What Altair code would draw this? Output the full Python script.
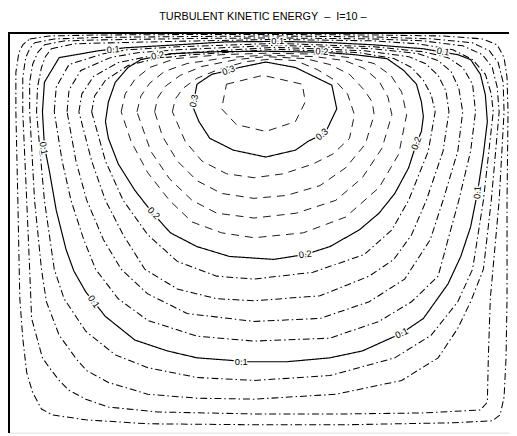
import altair as alt
import pandas as pd

# Contour lines of turbulent kinetic energy.
# x = distance from the left wall, d = depth below the lid (grid units).
levels = ["0.02", "0.04", "0.06", "0.08", "0.1", "0.12", "0.14", "0.16",
          "0.18", "0.2", "0.22", "0.24", "0.26", "0.28", "0.3", "0.32"]

cx = {}
cd = {}
cx["0.02"] = [21, 41, 91, 191, 271, 371, 441, 481, 496, 503, 506, 507, 506, 506, 505, 503, 499, 491, 451, 341, 249, 141, 78, 44, 33, 24, 18, 14, 11, 9, 7, 7, 10, 14]
cd["0.02"] = [6, 3, 2, 1.5, 1.5, 2, 3, 6, 12, 25, 45, 80, 170, 270, 330, 370, 388, 394, 396, 398, 398, 397, 393, 388, 382, 365, 345, 310, 270, 170, 80, 40, 20, 12]
cx["0.04"] = [26, 46, 91, 191, 271, 371, 431, 471, 488, 497, 502, 503, 498, 489, 487, 486, 479, 421, 341, 249, 151, 101, 78, 61, 51, 41, 34, 23, 21, 18, 14, 14, 17, 21]
cd["0.04"] = [10, 6, 4.5, 3.5, 3, 4, 6, 10, 18, 30, 50, 80, 170, 270, 330, 375, 383, 386, 387, 387, 385, 380, 372, 363, 353, 340, 330, 290, 240, 170, 80, 45, 25, 16]
cx["0.06"] = [36, 56, 91, 191, 271, 371, 421, 461, 481, 491, 496, 498, 490, 482, 469, 456, 436, 399, 332, 249, 191, 141, 101, 79, 69, 51, 38, 33, 26, 21, 21, 24, 29]
cd["0.06"] = [12, 8, 7, 5.5, 5, 6, 8, 13, 22, 35, 55, 80, 170, 240, 273, 300, 330, 353, 367, 372, 371, 367, 355, 343, 332, 307, 273, 240, 170, 80, 50, 32, 20]
cx["0.08"] = [43, 66, 101, 191, 271, 371, 416, 451, 471, 484, 490, 492, 482, 471, 456, 429, 392, 326, 249, 191, 141, 108, 78, 56, 46, 36, 28, 29, 33, 37]
cd["0.08"] = [16, 11, 10, 8, 6.5, 8, 11, 17, 27, 42, 62, 80, 170, 240, 273, 307, 330, 348, 353, 350, 340, 327, 303, 270, 240, 170, 80, 55, 35, 24]
cx["0.1"] = [51, 91, 118, 171, 221, 273, 321, 371, 421, 456, 469, 479, 484, 486, 482, 476, 469, 459, 446, 421, 399, 359, 326, 282, 244, 191, 161, 128, 98, 86, 78, 66, 58, 48, 41, 36, 34, 36]
cd["0.1"] = [25, 18, 15, 12, 9, 8.5, 9.5, 12, 16, 22, 27, 42, 63, 90, 123, 162, 197, 227, 255, 290, 305, 323, 330, 334, 334, 330, 323, 312, 288, 273, 263, 242, 220, 180, 140, 115, 80, 50]
cx["0.12"] = [46, 48, 61, 96, 121, 171, 271, 371, 421, 446, 461, 471, 474, 469, 457, 446, 436, 409, 376, 326, 249, 191, 141, 111, 88, 76, 63, 54]
cd["0.12"] = [80, 55, 32, 21, 17, 14, 10.5, 14, 19, 25, 35, 52, 80, 120, 170, 210, 247, 273, 293, 310, 313, 308, 292, 270, 240, 210, 170, 130]
cx["0.14"] = [59, 61, 73, 103, 131, 171, 271, 371, 416, 436, 449, 457, 461, 456, 441, 428, 402, 366, 316, 249, 181, 141, 114, 96, 79, 68]
cd["0.14"] = [80, 58, 38, 25, 20, 17, 12.5, 16, 21, 28, 39, 56, 80, 120, 170, 210, 250, 273, 290, 293, 285, 265, 240, 210, 170, 130]
cx["0.16"] = [71, 74, 86, 111, 141, 181, 271, 361, 406, 423, 436, 444, 447, 441, 424, 409, 391, 366, 316, 249, 211, 171, 138, 116, 98, 84]
cd["0.16"] = [80, 62, 44, 30, 24, 20, 14.5, 18, 24, 31, 43, 59, 80, 120, 170, 205, 230, 247, 267, 272, 270, 260, 240, 205, 170, 130]
cx["0.18"] = [84, 87, 98, 121, 149, 186, 271, 356, 391, 409, 421, 429, 433, 426, 406, 389, 361, 309, 249, 211, 171, 141, 116, 98]
cd["0.18"] = [80, 64, 48, 33, 26, 22, 16.5, 20, 26, 35, 48, 63, 80, 120, 170, 200, 225, 243, 250, 247, 232, 205, 170, 130]
cx["0.2"] = [98, 101, 108, 121, 134, 164, 211, 261, 318, 351, 384, 401, 414, 419, 421, 419, 414, 406, 392, 376, 356, 326, 301, 269, 224, 191, 164, 146, 128, 111, 101]
cd["0.2"] = [90, 70, 50, 35, 27, 21, 19, 18.5, 19.5, 22, 26, 38, 52, 70, 85, 100, 112, 137, 163, 183, 200, 217, 225, 230, 227, 217, 203, 183, 160, 133, 107]
cx["0.22"] = [114, 118, 128, 143, 169, 216, 261, 316, 346, 371, 388, 399, 404, 396, 376, 342, 299, 249, 216, 186, 163, 141, 124]
cd["0.22"] = [80, 62, 47, 35, 26, 22, 20.5, 21.5, 25, 31, 43, 60, 83, 123, 157, 187, 203, 208, 203, 192, 170, 142, 110]
cx["0.24"] = [130, 134, 143, 158, 181, 221, 261, 311, 341, 361, 376, 385, 389, 379, 359, 332, 292, 249, 211, 186, 163, 144]
cd["0.24"] = [80, 64, 51, 39, 31, 25, 22.5, 24, 28, 36, 49, 65, 83, 117, 147, 170, 183, 188, 183, 170, 148, 120]
cx["0.26"] = [148, 151, 159, 174, 196, 231, 261, 301, 326, 346, 361, 369, 371, 362, 342, 316, 282, 249, 216, 191, 171, 156]
cd["0.26"] = [80, 66, 54, 43, 34, 27, 24, 26, 32, 42, 58, 70, 83, 113, 137, 155, 165, 168, 163, 150, 130, 105]
cx["0.28"] = [166, 169, 177, 191, 213, 241, 266, 291, 313, 331, 344, 351, 346, 329, 309, 279, 249, 221, 196, 179]
cd["0.28"] = [80, 67, 56, 46, 37, 29, 26.5, 28, 37, 48, 62, 83, 107, 123, 133, 143, 147, 143, 130, 110]
cx["0.3"] = [191, 206, 223, 234, 261, 291, 328, 333, 323, 318, 304, 291, 261, 228, 204, 193, 186, 188]
cd["0.3"] = [52, 42, 38, 35, 29.5, 35, 53, 77, 98, 103, 110, 119, 126, 119, 107, 90, 73, 68]
cx["0.32"] = [221, 258, 298, 301, 291, 261, 231, 216]
cd["0.32"] = [52, 43, 52, 70, 90, 100, 93, 77]

# contour labels: text, position, rotation
label_text = ["0.1", "0.2", "0.3", "0.1", "0.2", "0.1", "0.3", "0.1",
              "0.2", "0.1", "0.1", "0.2", "0.3", "0.2", "0.1", "0.1"]
label_x = [106, 151, 223, 273, 318, 441, 188, 35, 147, 86, 236, 301, 318, 414, 476, 399]
label_d = [17, 23, 38, 8, 19, 19, 69, 117, 183, 273, 334, 225, 103, 112, 162, 305]
label_angle = [355, 350, 340, 0, 3, 10, 280, 80, 45, 55, 0, 352, 320, 290, 275, 335]

NB = "\u00a0"
title_text = "TURBULENT KINETIC ENERGY" + NB * 2 + "\u2013" + NB * 2 + "I=10" + NB + "\u2013"

rows = []
for lv in levels:
    xs = cx[lv] + [cx[lv][0]]
    ds = cd[lv] + [cd[lv][0]]
    v = float(lv)
    if lv in ("0.1", "0.2", "0.3"):
        style = "solid"
    elif v < 0.2:
        style = "dashdot"
    else:
        style = "dash"
    for i, (a, b) in enumerate(zip(xs, ds)):
        rows.append({"level": lv, "i": i, "x": a, "d": b, "style": style})
df = pd.DataFrame(rows)

labels = pd.DataFrame({"text": label_text, "x": label_x, "d": label_d,
                       "angle": label_angle})

W, H = 508, 406
xs = alt.Scale(domain=[0, W], nice=False, zero=False)
ys = alt.Scale(domain=[0, H], nice=False, zero=False, reverse=True)

lines = alt.Chart(df).mark_line(color="black").encode(
    x=alt.X("x:Q", scale=xs, axis=None),
    y=alt.Y("d:Q", scale=ys, axis=None),
    detail="level:N",
    order="i:Q",
    strokeDash=alt.StrokeDash("style:N", scale=alt.Scale(
        domain=["solid", "dashdot", "dash"],
        range=[[1, 0], [7, 3, 1.5, 3], [8, 6]]), legend=None),
    strokeWidth=alt.StrokeWidth("style:N", scale=alt.Scale(
        domain=["solid", "dashdot", "dash"], range=[1.2, 0.9, 0.9]), legend=None),
)

halo = alt.Chart(labels).mark_text(
    font="Liberation Sans", fontSize=9.5, color="white", stroke="white",
    strokeWidth=3, baseline="middle", align="center").encode(
    x=alt.X("x:Q", scale=xs, axis=None),
    y=alt.Y("d:Q", scale=ys, axis=None),
    text="text:N",
    angle=alt.Angle("angle:Q", scale=None),
)
txt = alt.Chart(labels).mark_text(
    font="Liberation Sans", fontSize=9.5, color="black",
    baseline="middle", align="center").encode(
    x=alt.X("x:Q", scale=xs, axis=None),
    y=alt.Y("d:Q", scale=ys, axis=None),
    text="text:N",
    angle=alt.Angle("angle:Q", scale=None),
)

left_wall = alt.Chart(df).mark_rule(color="black", strokeWidth=2).encode(
    x=alt.value(0), y=alt.value(0), y2=alt.value(H))
lid = alt.Chart(df).mark_rule(color="black", strokeWidth=1).encode(
    x=alt.value(0), x2=alt.value(W), y=alt.value(0))

chart = alt.layer(lines, halo, txt, left_wall, lid).properties(
    width=W, height=H,
    padding={"left": 1, "top": 22, "right": 0, "bottom": 0},
    autosize=alt.AutoSizeParams(type="none"),
    title=alt.TitleParams(title_text, font="Liberation Sans", fontSize=11,
                          fontWeight="normal", color="black", anchor="middle",
                          offset=10, dx=4),
).configure_view(stroke=None).configure(background="white")

chart.save("out.html", embed_options={"renderer": "svg", "actions": False})
